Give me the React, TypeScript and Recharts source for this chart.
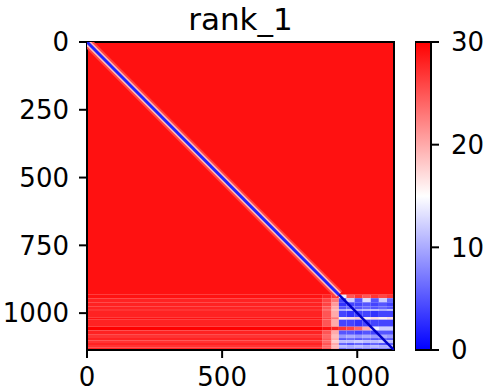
import React from "react";
import {
  ScatterChart,
  Scatter,
  XAxis,
  YAxis,
  ReferenceArea,
  BarChart,
  Bar,
} from "recharts";

// matrix size (rows = cols)
const N = 1136;
const xTicks = [0, 500, 1000];
const yTicks = [0, 250, 500, 750, 1000];
const cbarTicks = [0, 10, 20, 30];

// upper part of the matrix (rows 0..topRows) is almost flat, near 29
const topRows = 932;
const topValue = 29;

// lower part: coarse grid
const rowEdges = [932, 945, 960, 975, 985, 992, 1015, 1024, 1050, 1064, 1080, 1092, 1100, 1110, 1118, 1128, 1136];
const colEdges = [0, 870, 905, 932, 960, 990, 1020, 1050, 1080, 1110, 1136];
const cellValues = [
  [29, 28, 27, 14, 25, 27, 25, 27, 26, 27],
  [28, 26, 23, 4, 12, 5, 13, 5, 12, 6],
  [28, 26, 21, 3, 4, 4, 5, 4, 5, 4],
  [28, 25, 20, 5, 6, 5, 6, 5, 6, 5],
  [27, 24, 19, 10, 11, 10, 11, 11, 10, 11],
  [28, 25, 20, 4, 3, 4, 4, 3, 4, 4],
  [29, 26, 23, 16, 17, 18, 16, 17, 16, 17],
  [28, 25, 20, 4, 4, 3, 4, 4, 4, 4],
  [30, 29, 28, 27, 26, 24, 20, 14, 12, 12],
  [28, 25, 20, 5, 5, 4, 5, 4, 5, 5],
  [27, 24, 19, 9, 10, 9, 10, 9, 10, 9],
  [28, 25, 20, 5, 6, 5, 6, 5, 6, 5],
  [27, 24, 18, 11, 11, 12, 11, 11, 12, 11],
  [28, 25, 20, 6, 5, 6, 5, 6, 5, 6],
  [27, 24, 19, 11, 10, 11, 10, 11, 10, 11],
  [28, 25, 20, 7, 8, 7, 8, 7, 8, 7],
];

// the diagonal (distance 0): with a soft halo above the block, plain inside it
const diagonalTop = [
  { x: 0, y: 0 },
  { x: 932, y: 932 },
];
const diagonalBlock = [
  { x: 932, y: 932 },
  { x: N, y: N },
];

const cbarData = [{ name: "cbar", range: [0, 30] }];

const FONT = "DejaVu Sans";

// matplotlib "bwr", vmin 0 / vmax 30
function bwr(v: number) {
  const t = Math.max(0, Math.min(1, v / 30));
  let r, g, b;
  if (t < 0.5) {
    r = g = Math.round(t * 2 * 255);
    b = 255;
  } else {
    r = 255;
    g = b = Math.round((2 - t * 2) * 255);
  }
  return `rgb(${r},${g},${b})`;
}

const cells: { x1: number; x2: number; y1: number; y2: number; v: number }[] = [
  { x1: 0, x2: N, y1: 0, y2: topRows, v: topValue },
];
cellValues.forEach((row, i) => {
  row.forEach((v, j) => {
    cells.push({ x1: colEdges[j], x2: colEdges[j + 1], y1: rowEdges[i], y2: rowEdges[i + 1], v });
  });
});

const tickStyle = { fill: "#000", fontSize: 26, fontFamily: FONT };
const lineStyle = { stroke: "#000", strokeWidth: 2 };

const noDot = () => <g />;

export default function App() {
  return (
    <div style={{ position: "absolute", left: 0, top: 0, width: 490, height: 392, background: "#fff", fontFamily: FONT }}>
      <div
        style={{
          position: "absolute",
          left: 0,
          top: 2,
          width: 481,
          textAlign: "center",
          fontSize: 31,
          lineHeight: "34px",
          color: "#000",
        }}
      >
        rank_1
      </div>
      <div style={{ position: "absolute", left: 0, top: 0 }}>
        <ScatterChart width={400} height={392} margin={{ top: 42, right: 6, bottom: 0, left: 0 }}>
          <XAxis
            type="number"
            dataKey="x"
            domain={[0, N]}
            ticks={xTicks}
            allowDataOverflow
            height={42}
            tick={tickStyle}
            tickSize={8}
            tickMargin={10}
            axisLine={lineStyle}
            tickLine={lineStyle}
          />
          <YAxis
            type="number"
            dataKey="y"
            domain={[0, N]}
            ticks={yTicks}
            reversed
            allowDataOverflow
            width={87}
            tick={tickStyle}
            tickSize={8}
            tickMargin={10}
            axisLine={lineStyle}
            tickLine={lineStyle}
          />
          {cells.map((c, i) => (
            <ReferenceArea
              key={i}
              x1={c.x1}
              x2={c.x2}
              y1={c.y1}
              y2={c.y2}
              fill={bwr(c.v)}
              fillOpacity={1}
              stroke="none"
            />
          ))}
          <Scatter data={diagonalTop} line={{ stroke: bwr(26), strokeWidth: 10 }} shape={noDot} isAnimationActive={false} />
          <Scatter data={diagonalTop} line={{ stroke: bwr(19), strokeWidth: 6 }} shape={noDot} isAnimationActive={false} />
          <Scatter data={diagonalTop} line={{ stroke: bwr(2), strokeWidth: 3 }} shape={noDot} isAnimationActive={false} />
          <Scatter data={diagonalBlock} line={{ stroke: "rgb(0,0,200)", strokeWidth: 2.5 }} shape={noDot} isAnimationActive={false} />
          <ReferenceArea x1={0} x2={N} y1={0} y2={N} fill="none" stroke="#000" strokeWidth={2} />
        </ScatterChart>
      </div>
      <div style={{ position: "absolute", left: 415, top: 0 }}>
        <BarChart width={75} height={392} data={cbarData} margin={{ top: 42, right: 0, bottom: 42, left: 0 }} barCategoryGap={0}>
          <defs>
            <linearGradient id="cbarGrad" x1="0" y1="1" x2="0" y2="0">
              <stop offset="0%" stopColor={bwr(0)} />
              <stop offset="50%" stopColor={bwr(15)} />
              <stop offset="100%" stopColor={bwr(30)} />
            </linearGradient>
          </defs>
          <XAxis dataKey="name" hide />
          <YAxis
            orientation="right"
            domain={[0, 30]}
            ticks={cbarTicks}
            width={59}
            tick={tickStyle}
            tickSize={8}
            tickMargin={12}
            axisLine={lineStyle}
            tickLine={lineStyle}
          />
          <Bar dataKey="range" fill="url(#cbarGrad)" stroke="#000" strokeWidth={2} isAnimationActive={false} />
        </BarChart>
      </div>
    </div>
  );
}
